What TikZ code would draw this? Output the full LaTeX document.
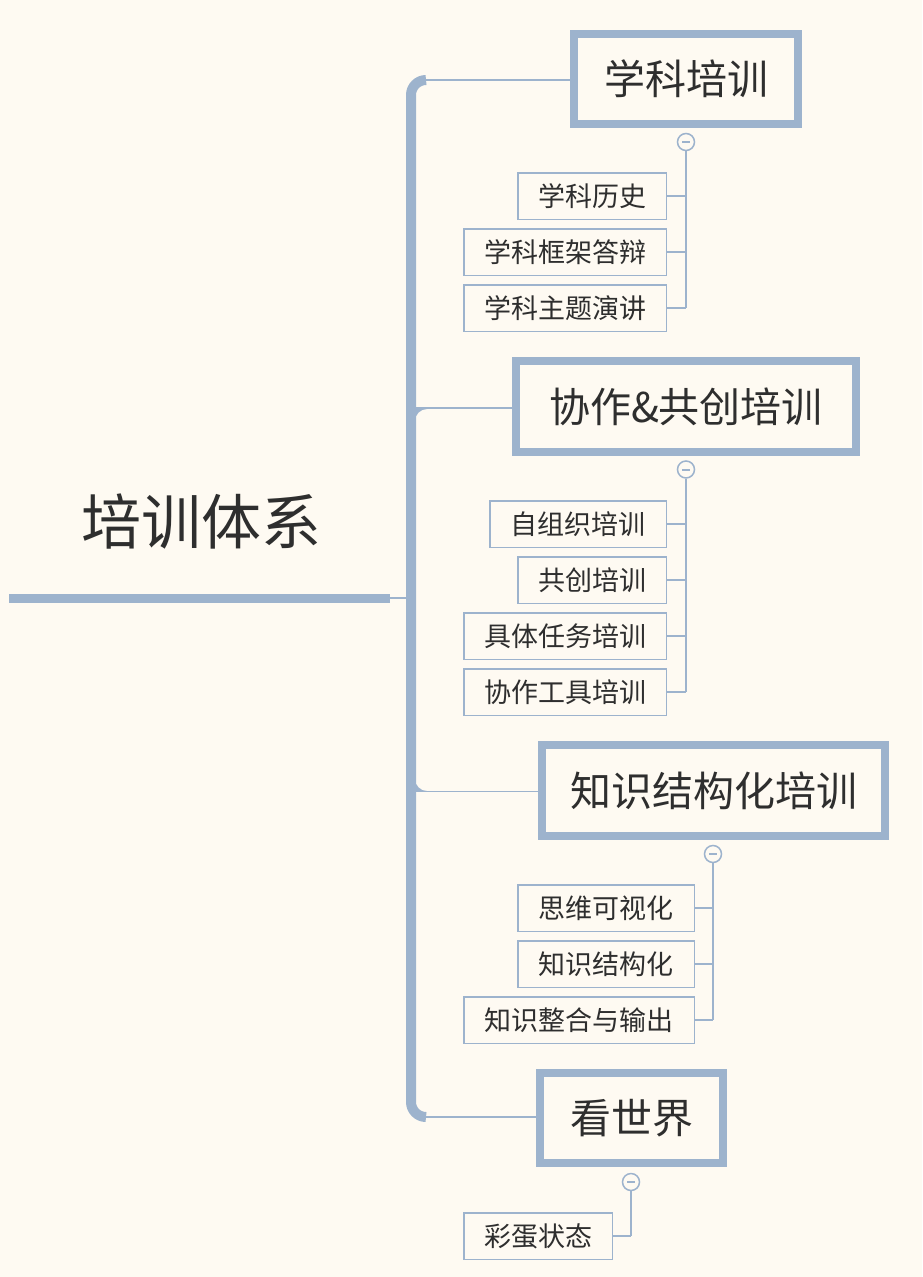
\documentclass[tikz,border=0pt]{standalone}
\usepackage{fontspec}
\setmainfont{Noto Sans CJK SC}
\begin{document}
\begin{tikzpicture}[x=1pt,y=-1pt,
  every node/.style={text=txtc, inner sep=0pt},
  mainbox/.style={draw=linec, line width=8pt, fill=bgc, font=\fontsize{41}{41}\selectfont},
  subbox/.style={draw=linec, line width=1.5pt, fill=bgc, font=\fontsize{27}{27}\selectfont, minimum height=46.5pt},
  conn/.style={draw=linec, line width=1.6pt},
  toggle/.style={circle, draw=linec, line width=1.5pt, fill=bgc, minimum size=17pt}
]
\definecolor{bgc}{HTML}{FEFAF2}
\definecolor{linec}{HTML}{9DB3CD}
\definecolor{txtc}{HTML}{2E2E2E}
\fill[bgc] (0,0) rectangle (922,1277);
\useasboundingbox (0,0) rectangle (922,1277);

% root
\node[font=\fontsize{60}{60}\selectfont] (root) at (201,522) {培训体系};
\coordinate (rootL) at (9,598);
\coordinate (rootR) at (390,598);
\coordinate (trunkM) at (411,598);
\draw[linec, line width=9pt] (rootL) -- (rootR);
\draw[conn] (rootR) -- (trunkM);

% trunk
\coordinate (tTop) at (426,80);
\coordinate (tBot) at (426,1117);
\draw[linec, line width=10pt, rounded corners=15pt] (tTop) -- (411,80) -- (411,1117) -- (tBot);

% main boxes
\node[mainbox, minimum width=224pt, minimum height=90pt] (b1) at (686,79) {学科培训};
\node[mainbox, minimum width=340pt, minimum height=91pt] (b2) at (686,406.5) {协作\&共创培训};
\node[mainbox, minimum width=343pt, minimum height=91pt] (b3) at (713.5,790.5) {知识结构化培训};
\node[mainbox, minimum width=183pt, minimum height=90pt] (b4) at (631.5,1118) {看世界};

\draw[conn] (tTop) -- (tTop -| b1.west);
\draw[conn] (414,408) -- (414,408 -| b2.west);
\draw[conn] (414,791.5) -- (414,791.5 -| b3.west);
\draw[conn] (tBot) -- (tBot -| b4.west);
\fill[linec] (415,409) -- (427,409) arc[start angle=90, end angle=180, radius=12pt] -- cycle;
\fill[linec] (415,791) -- (427,791) arc[start angle=270, end angle=180, radius=12pt] -- cycle;

% children of b1
\node[subbox, minimum width=148.5pt] (c11) at (592,196) {学科历史};
\node[subbox, minimum width=202.5pt] (c12) at (565,252) {学科框架答辩};
\node[subbox, minimum width=202.5pt] (c13) at (565,308) {学科主题演讲};
\node[toggle] (t1) at (686,142) {};
\draw[conn] (t1.south) -- (686,308) coordinate (v1);
\foreach \c in {c11,c12,c13} \draw[conn] (\c.east) -- (\c.east -| v1);

% children of b2
\node[subbox, minimum width=176.5pt] (c21) at (578,524) {自组织培训};
\node[subbox, minimum width=148.5pt] (c22) at (592,580) {共创培训};
\node[subbox, minimum width=202.5pt] (c23) at (565,636) {具体任务培训};
\node[subbox, minimum width=202.5pt] (c24) at (565,692) {协作工具培训};
\node[toggle] (t2) at (686,469.5) {};
\draw[conn] (t2.south) -- (686,692) coordinate (v2);
\foreach \c in {c21,c22,c23,c24} \draw[conn] (\c.east) -- (\c.east -| v2);

% children of b3
\node[subbox, minimum width=176.5pt] (c31) at (606,908) {思维可视化};
\node[subbox, minimum width=176.5pt] (c32) at (606,964) {知识结构化};
\node[subbox, minimum width=230.5pt] (c33) at (579,1020) {知识整合与输出};
\node[toggle] (t3) at (713,854) {};
\draw[conn] (t3.south) -- (713,1020) coordinate (v3);
\foreach \c in {c31,c32,c33} \draw[conn] (\c.east) -- (\c.east -| v3);

% children of b4
\node[subbox, minimum width=148.5pt] (c41) at (538,1236) {彩蛋状态};
\node[toggle] (t4) at (631,1182) {};
\draw[conn] (t4.south) -- (631,1236) coordinate (v4);
\draw[conn] (c41.east) -- (c41.east -| v4);

% minus signs
\foreach \t in {t1,t2,t3,t4} \draw[linec, line width=2pt] ([xshift=-4pt]\t.center) -- ([xshift=4pt]\t.center);
\end{tikzpicture}
\end{document}
